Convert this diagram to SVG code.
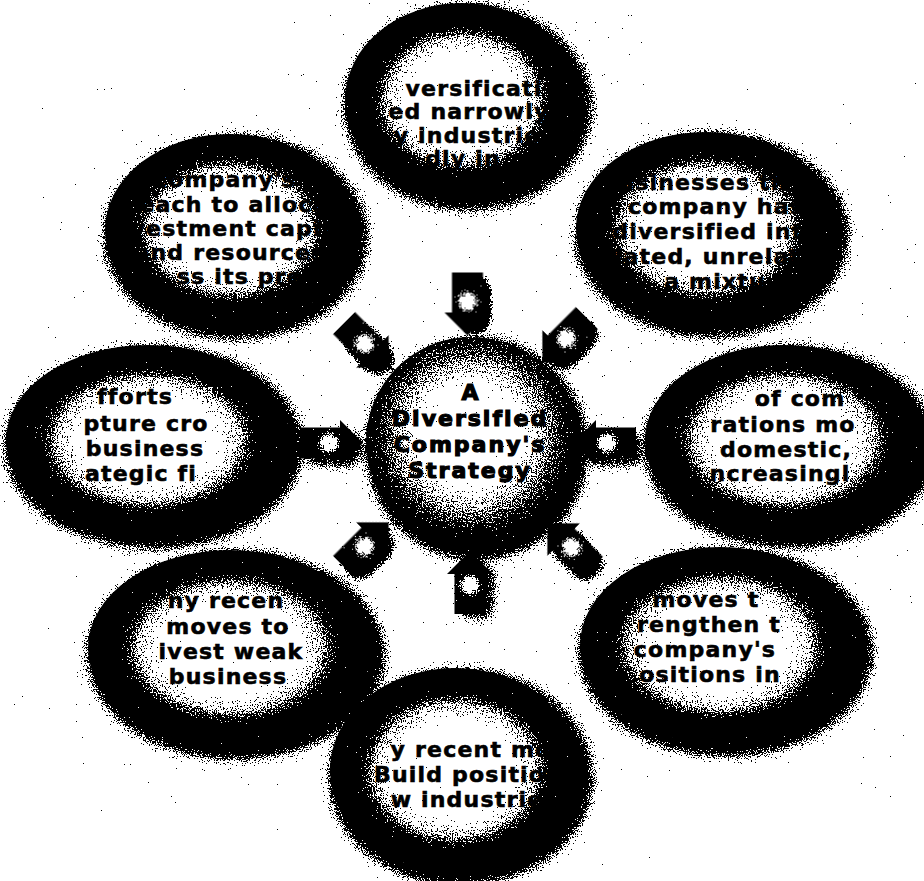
<svg xmlns="http://www.w3.org/2000/svg" xmlns:xlink="http://www.w3.org/1999/xlink" width="924" height="881" viewBox="0 0 924 881">
<defs>
  <style>
    .t { font-family: "DejaVu Sans", "Liberation Sans", sans-serif; font-weight: bold; font-size: 22px; letter-spacing: 1.2px; text-anchor: middle; fill: #000; stroke: #000; stroke-width: 0.6px; }
    .c { font-family: "DejaVu Sans", "Liberation Sans", sans-serif; font-weight: bold; font-size: 22px; letter-spacing: 2px; text-anchor: middle; fill: #000; stroke: #000; stroke-width: 1.2px; }
    .body { fill: url(#eg); filter: url(#grain); }
    .halo { fill: #000; filter: url(#halo); }
  </style>
  <radialGradient id="eg" cx="0.5" cy="0.5" r="0.5">
    <stop offset="0" stop-color="#fff"/>
    <stop offset="0.42" stop-color="#fff"/>
    <stop offset="0.64" stop-color="#999"/>
    <stop offset="0.77" stop-color="#1a1a1a"/>
    <stop offset="0.83" stop-color="#000"/>
    <stop offset="1" stop-color="#000"/>
  </radialGradient>
  <radialGradient id="sg" cx="0.5" cy="0.47" r="0.55">
    <stop offset="0" stop-color="#fff"/>
    <stop offset="0.38" stop-color="#f2f2f2"/>
    <stop offset="0.68" stop-color="#7a7a7a"/>
    <stop offset="0.9" stop-color="#111"/>
    <stop offset="1" stop-color="#000"/>
  </radialGradient>
  <radialGradient id="glow" cx="0.5" cy="0.5" r="0.5">
    <stop offset="0" stop-color="#fff" stop-opacity="1"/>
    <stop offset="0.3" stop-color="#fff" stop-opacity="0.95"/>
    <stop offset="1" stop-color="#fff" stop-opacity="0"/>
  </radialGradient>
  <filter id="grain" x="-5%" y="-5%" width="110%" height="110%" color-interpolation-filters="sRGB">
    <feTurbulence type="fractalNoise" baseFrequency="0.8" numOctaves="2" seed="3" result="n"/>
    <feColorMatrix in="n" type="matrix" values="1 0 0 0 0  1 0 0 0 0  1 0 0 0 0  0 0 0 0 1" result="g"/>
    <feComposite in="SourceGraphic" in2="g" operator="arithmetic" k1="0" k2="1" k3="1.45" k4="-0.72" result="sum"/>
    <feComponentTransfer in="sum" result="q">
      <feFuncR type="discrete" tableValues="0 1"/>
      <feFuncG type="discrete" tableValues="0 1"/>
      <feFuncB type="discrete" tableValues="0 1"/>
    </feComponentTransfer>
    <feComposite in="q" in2="SourceGraphic" operator="in"/>
  </filter>
  <filter id="halo" x="-25%" y="-25%" width="150%" height="150%" color-interpolation-filters="sRGB">
    <feGaussianBlur in="SourceAlpha" stdDeviation="8" result="b"/>
    <feTurbulence type="fractalNoise" baseFrequency="0.85" numOctaves="2" seed="7" result="n"/>
    <feColorMatrix in="n" type="matrix" values="0 0 0 0 0  0 0 0 0 0  0 0 0 0 0  1 0 0 0 0" result="na"/>
    <feComposite in="b" in2="na" operator="arithmetic" k1="0" k2="1" k3="1.4" k4="-0.66" result="s"/>
    <feComponentTransfer in="s">
      <feFuncA type="discrete" tableValues="0 1"/>
    </feComponentTransfer>
  </filter>
  <path id="arr" d="M-31,-15.5 H9 V-23 L32,0 L9,23 V15.5 H-31 Z"/>
  <g id="arrow">
    <path d="M-31,-15.5 H9 V-23 L32,0 L9,23 V15.5 H-31 Z" fill="#000"/>
    <circle cx="-2" cy="0" r="14" fill="url(#glow)"/>
  </g>
</defs>

<rect x="0" y="0" width="924" height="881" fill="#fff"/>

<g id="node-top">
  <ellipse class="halo" cx="468" cy="107" rx="124" ry="103"/>
  <ellipse class="body" cx="462" cy="100" rx="117" ry="97"/>
  <text class="t" x="474" y="96">versificati</text>
  <text class="t" x="469" y="119">ed narrowly</text>
  <text class="t" x="467" y="143">y industrie</text>
  <text class="t" x="463" y="166">dly in</text>
</g>

<g id="node-upper-left">
  <ellipse class="halo" cx="236" cy="237" rx="132" ry="102"/>
  <ellipse class="body" cx="230" cy="230" rx="125" ry="96"/>
  <text class="t" x="225" y="187">company's</text>
  <text class="t" x="234" y="212">each to alloca</text>
  <text class="t" x="232" y="236">vestment capit</text>
  <text class="t" x="230" y="260">and resources</text>
  <text class="t" x="240" y="284">ss its pro</text>
</g>

<g id="node-upper-right">
  <ellipse class="halo" cx="712" cy="235" rx="137" ry="102"/>
  <ellipse class="body" cx="706" cy="228" rx="130" ry="96"/>
  <text class="t" x="703" y="190">usinesses th</text>
  <text class="t" x="716" y="214">company has</text>
  <text class="t" x="716" y="239">diversified into</text>
  <text class="t" x="708" y="264">lated, unrelat</text>
  <text class="t" x="715" y="289">a mixtu</text>
</g>

<g id="node-left">
  <ellipse class="halo" cx="154" cy="447" rx="149" ry="101"/>
  <ellipse class="body" cx="148" cy="440" rx="142" ry="95"/>
  <text class="t" x="135" y="404">fforts</text>
  <text class="t" x="146" y="431">pture cro</text>
  <text class="t" x="145" y="456">business</text>
  <text class="t" x="141" y="481">ategic fi</text>
</g>

<g id="node-right">
  <ellipse class="halo" cx="790" cy="447" rx="146" ry="101"/>
  <ellipse class="body" cx="784" cy="440" rx="139" ry="95"/>
  <text class="t" x="800" y="406">of com</text>
  <text class="t" x="783" y="432">rations mo</text>
  <text class="t" x="786" y="457">domestic,</text>
  <text class="t" x="780" y="481">ncreasingl</text>
</g>

<g id="node-lower-left">
  <ellipse class="halo" cx="236" cy="655" rx="149" ry="104"/>
  <ellipse class="body" cx="230" cy="648" rx="142" ry="98"/>
  <text class="t" x="226" y="608">ny recen</text>
  <text class="t" x="228" y="634">moves to</text>
  <text class="t" x="231" y="659">ivest weak</text>
  <text class="t" x="228" y="684">business</text>
</g>

<g id="node-lower-right">
  <ellipse class="halo" cx="726" cy="652" rx="147" ry="104"/>
  <ellipse class="body" cx="720" cy="645" rx="140" ry="98"/>
  <text class="t" x="706" y="607">moves t</text>
  <text class="t" x="709" y="632">rengthen t</text>
  <text class="t" x="705" y="657">company's</text>
  <text class="t" x="710" y="682">ositions in</text>
</g>

<g id="node-bottom">
  <ellipse class="halo" cx="461" cy="777" rx="132" ry="108"/>
  <ellipse class="body" cx="455" cy="770" rx="125" ry="102"/>
  <text class="t" x="471" y="757">y recent mo</text>
  <text class="t" x="468" y="782">Build position</text>
  <text class="t" x="467" y="807">w industrie</text>
</g>

<g id="connectors">
  <g transform="translate(467.5,303.5) rotate(90)"><use xlink:href="#arr" class="halo" transform="translate(4,-7)"/><use xlink:href="#arrow" filter="url(#grain)"/></g>
  <g transform="translate(470,583) rotate(-90)"><use xlink:href="#arr" class="halo" transform="translate(-4,7)"/><use xlink:href="#arrow" filter="url(#grain)"/></g>
  <g transform="translate(331,443)"><use xlink:href="#arr" class="halo" transform="translate(6,6)"/><use xlink:href="#arrow" filter="url(#grain)"/></g>
  <g transform="translate(605,443) rotate(180)"><use xlink:href="#arr" class="halo" transform="translate(-6,-6)"/><use xlink:href="#arrow" filter="url(#grain)"/></g>
  <g transform="translate(366,345) rotate(45)"><use xlink:href="#arr" class="halo" transform="translate(8,1)"/><use xlink:href="#arrow" filter="url(#grain)"/></g>
  <g transform="translate(565,340) rotate(135)"><use xlink:href="#arr" class="halo" transform="translate(1,-8)"/><use xlink:href="#arrow" filter="url(#grain)"/></g>
  <g transform="translate(366,545) rotate(-45)"><use xlink:href="#arr" class="halo" transform="translate(-1,8)"/><use xlink:href="#arrow" filter="url(#grain)"/></g>
  <g transform="translate(570,546) rotate(-135)"><use xlink:href="#arr" class="halo" transform="translate(-8,-1)"/><use xlink:href="#arrow" filter="url(#grain)"/></g>
</g>

<g id="node-center">
  <circle class="halo" cx="477" cy="449" r="111"/>
  <circle cx="471" cy="442" r="105" fill="url(#sg)" filter="url(#grain)"/>
  <text class="c" x="471" y="400">A</text>
  <text class="c" x="470" y="426">Diversified</text>
  <text class="c" x="470" y="452">Company's</text>
  <text class="c" x="470" y="478">Strategy</text>
</g>
</svg>
